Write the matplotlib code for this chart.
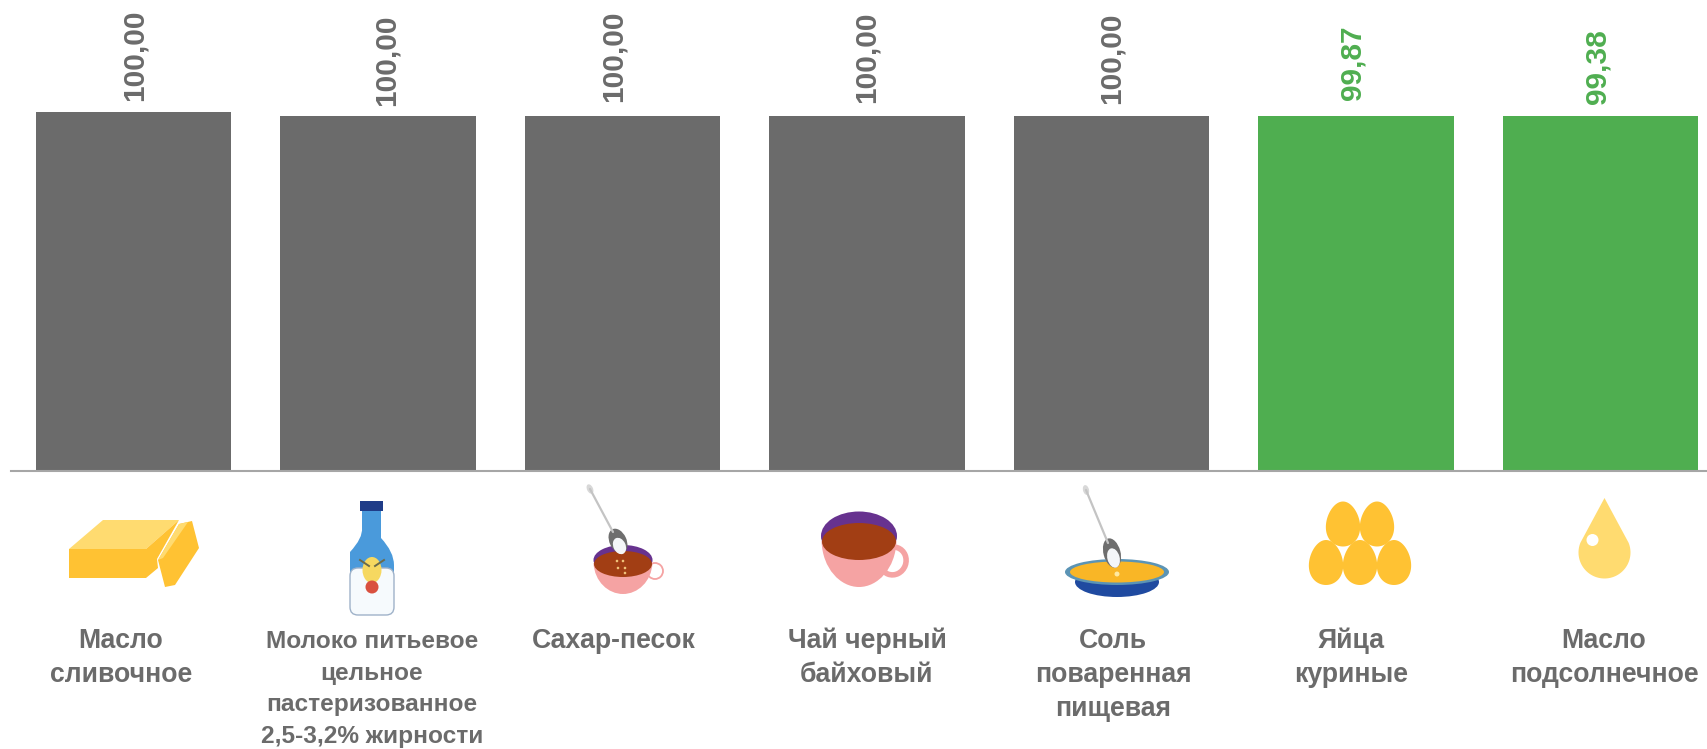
import numpy as np
import matplotlib
matplotlib.use("Agg")
import matplotlib.pyplot as plt
from matplotlib.patches import Polygon, Ellipse, Circle, Rectangle, FancyBboxPatch, PathPatch
from matplotlib.path import Path

plt.rcParams['font.family'] = ['Liberation Sans', 'DejaVu Sans']

categories = ["Масло\nсливочное",
              "Молоко питьевое\nцельное\nпастеризованное\n2,5-3,2% жирности",
              "Сахар-песок",
              "Чай черный\nбайховый",
              "Соль\nповаренная\nпищевая",
              "Яйца\nкуриные",
              "Масло\nподсолнечное"]
value_labels = ["100,00", "100,00", "100,00", "100,00", "100,00", "99,87", "99,38"]
# bar heights as drawn in the picture, the first one is a bit taller
bar_heights = [101.0, 100.0, 100.0, 100.0, 100.0, 100.0, 100.0]

GREY = "#6b6b6b"
GREEN = "#4fae50"
bar_colors = [GREY, GREY, GREY, GREY, GREY, GREEN, GREEN]

# nudges of the value labels, pixels
label_dx = [1, 9, -9, 0, 0, -3, -3]
label_dy = [11, 10, 14, 13, 12, 16, 12]
# where the category text sits, pixels
cat_x = [121, 372, 614, 867, 1113, 1351, 1604]
cat_y = [628, 630, 628, 628, 628, 628, 628]
cat_size = [19.2, 17.6, 19.2, 19.2, 19.2, 19.2, 19.2]

fig = plt.figure(figsize=(17.08, 7.49), dpi=100)
W, H = 1708, 749

ax = fig.add_axes([11 / W, 1 - 471 / H, (W - 11) / W, 471 / H])
x = np.arange(len(categories))
ax.bar(x, bar_heights, width=0.8, color=bar_colors)
ax.set_xlim(-0.5006, 6.44)
ax.set_ylim(0, 132.5)
for s in ["top", "left", "right"]:
    ax.spines[s].set_visible(False)
ax.spines["bottom"].set_color("#a6a6a6")
ax.spines["bottom"].set_linewidth(1.5)
ax.set_xticks([])
ax.set_yticks([])
for i, lab in enumerate(value_labels):
    ax.annotate(lab, (x[i], bar_heights[i]), xytext=(label_dx[i], label_dy[i]),
                textcoords="offset pixels", rotation=90, ha="center", va="bottom",
                fontsize=21.5, fontweight="bold", color=bar_colors[i])

# icons and category text, in picture pixels
ov = fig.add_axes([0, 0, 1, 1])
ov.set_xlim(0, W)
ov.set_ylim(H, 0)
ov.axis("off")
ov.patch.set_alpha(0)

for i, c in enumerate(categories):
    ls = 1.48 if i == 1 else 1.4
    ov.text(cat_x[i], cat_y[i], c, ha="center", va="top", multialignment="center",
            fontsize=cat_size[i], fontweight="bold", color=GREY, linespacing=ls)

YEL = "#ffc233"
LIGHT = "#ffdb70"
PINK = "#f5a3a3"
PURPLE = "#67328f"
BROWN = "#a23e14"


def poly(pts, color, **kw):
    ov.add_patch(Polygon(pts, closed=True, facecolor=color, edgecolor="none", **kw))


def ell(cx, cy, w, h, color, **kw):
    ov.add_patch(Ellipse((cx, cy), w, h, facecolor=color, edgecolor="none", **kw))


def egg(cx, cy, rx, ry):
    t = np.linspace(0, 2 * np.pi, 80)
    ex = rx * np.cos(t) * (1 - 0.14 * np.sin(t))
    ey = cy - ry * np.sin(t)
    poly(np.column_stack([cx + ex, ey]), YEL)


def cup_body(cx, top, bottom, half, color):
    verts = [(cx - half, top), (cx - half + 1, top + (bottom - top) * 0.6), (cx - half * 0.5, bottom),
             (cx, bottom), (cx + half * 0.5, bottom), (cx + half - 1, top + (bottom - top) * 0.6),
             (cx + half, top), (cx - half, top)]
    codes = [Path.MOVETO, Path.CURVE4, Path.CURVE4, Path.CURVE4, Path.CURVE4, Path.CURVE4, Path.CURVE4,
             Path.CLOSEPOLY]
    ov.add_patch(PathPatch(Path(verts, codes), facecolor=color, edgecolor="none"))


def spoon(x0, y0, x1, y1, bx, by, angle, w, h):
    ov.plot([x0, x1], [y0, y1], color="#c4c4c4", lw=1.6, solid_capstyle="round")
    ell(x0, y0, 6, 10, "#d8d8d8", angle=angle)
    ell(bx, by, w, h, "#6e6e6e", angle=angle)
    ell(bx + 1.5, by + 5, w * 0.72, h * 0.66, "#f4f6f8", angle=angle)


# butter
poly([(69, 549), (103, 520), (179, 520), (146, 549)], LIGHT)
poly([(69, 549), (146, 549), (146, 578), (69, 578)], YEL)
poly([(146, 549), (179, 520), (157, 559), (158, 568), (146, 578)], YEL)
poly([(158, 560), (179, 524), (192, 521), (199, 548), (175, 585), (165, 587)], YEL)
poly([(158, 560), (179, 524), (188, 522), (163, 558)], LIGHT)

# milk bottle
ov.add_patch(PathPatch(Path(
    [(362, 510), (362, 528), (363, 538), (350, 552), (350, 565), (350, 590), (394, 590), (394, 565),
     (394, 552), (381, 538), (381, 528), (381, 510), (362, 510)],
    [Path.MOVETO, Path.LINETO, Path.CURVE3, Path.CURVE3, Path.LINETO, Path.LINETO, Path.LINETO, Path.LINETO,
     Path.CURVE3, Path.CURVE3, Path.LINETO, Path.LINETO, Path.CLOSEPOLY]),
    facecolor="#4a9adb", edgecolor="none"))
ov.add_patch(FancyBboxPatch((354, 572), 36, 39, boxstyle="round,pad=4,rounding_size=8",
                            facecolor="#f6fafd", edgecolor="#9fb2c9", lw=1))
ov.add_patch(Rectangle((360, 501), 23, 10, facecolor="#1f3c88", edgecolor="none"))
ell(372, 570, 19, 26, "#f6d860")
ov.plot([360, 369], [560, 566], color="#6b6b4a", lw=1.4)
ov.plot([384, 375], [560, 566], color="#6b6b4a", lw=1.4)
ov.add_patch(Circle((372, 587), 6.5, facecolor="#d9503f", edgecolor="none"))

# sugar in a cup
ell(623, 560, 59, 30, PURPLE)
cup_body(623, 563, 594, 29.5, PINK)
ov.add_patch(Ellipse((655, 571), 16, 16, fill=False, edgecolor=PINK, lw=1.3))
ell(623, 564, 58, 26, BROWN)
spoon(590, 489, 613, 532, 618, 541, -25, 17, 26)
for sx, sy in [(617, 561), (623, 561), (618, 568), (625, 568), (625, 573)]:
    ov.add_patch(Circle((sx, sy), 1.3, facecolor="#f0c27a", edgecolor="none"))

# tea
ov.add_patch(Ellipse((893, 561), 26, 28, angle=20, fill=False, edgecolor=PINK, lw=4))
ell(859, 536, 76, 49, PURPLE)
cup_body(859, 541, 587, 37.5, PINK)
ell(859, 541.5, 74, 37, BROWN)

# salt in a plate
ell(1117, 582, 84, 30, "#1f4aa0")
ell(1117, 572, 104, 26, "#5b94b5")
ell(1117, 572, 94, 21, "#f9b626")
spoon(1086, 490, 1108, 543, 1112, 553, -15, 17, 30)
ov.add_patch(Circle((1117, 574), 2.5, facecolor="#ffe9a0", edgecolor="none"))

# eggs
for ex_, ey_ in [(1343, 524), (1377, 524), (1326, 562.5), (1360, 562.5), (1394, 562.5)]:
    egg(ex_, ey_, 17, 22.5)

# oil drop
t = np.radians(np.linspace(-22, 202, 60))
drop = np.column_stack([1604.5 + 26 * np.cos(t), 552.5 + 26 * np.sin(t)])
poly(np.vstack([[(1604.5, 498)], drop]), LIGHT)
ov.add_patch(Circle((1592.5, 540), 6, facecolor="white", edgecolor="none"))

fig.savefig("out.png", dpi=100)
plt.close(fig)
